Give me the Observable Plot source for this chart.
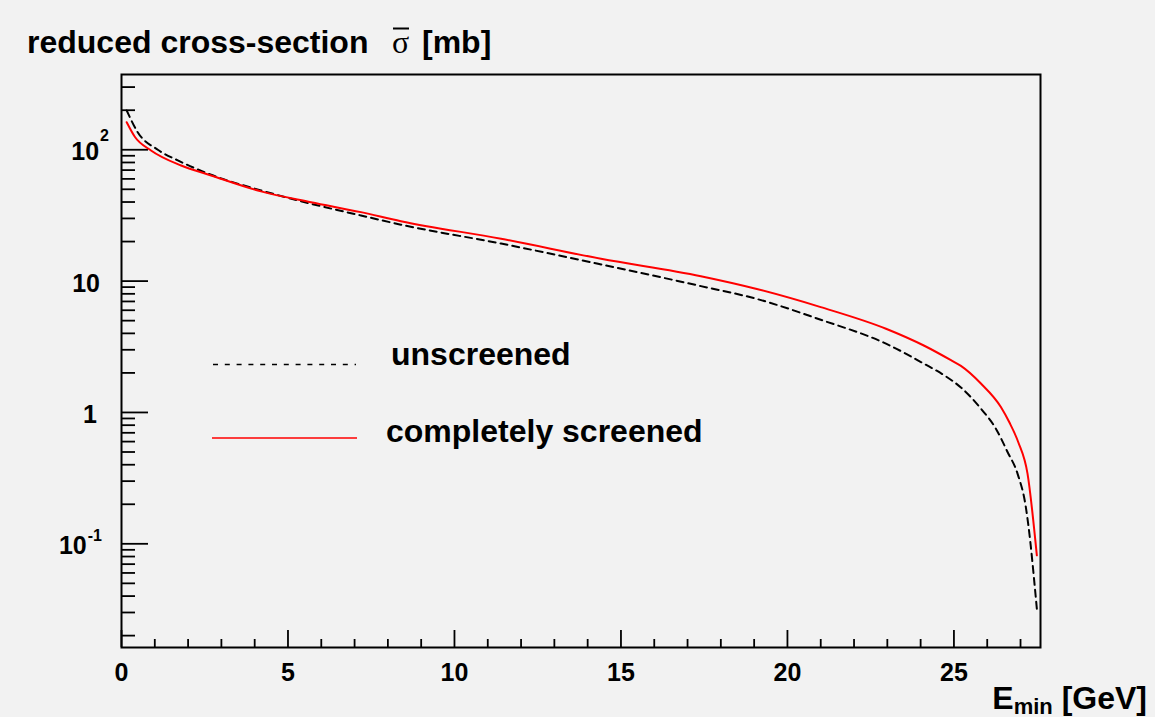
<!DOCTYPE html>
<html>
<head>
<meta charset="utf-8">
<script src="https://cdn.jsdelivr.net/npm/d3@7"></script>
<script src="https://cdn.jsdelivr.net/npm/@observablehq/plot@0.6"></script>
<style>
  html, body { margin: 0; padding: 0; background: #f2f2f2; }
  #chart svg { display: block; }
</style>
</head>
<body>
<div id="chart"></div>
<script>
// ---- data ----
const energyScreened = [0.156, 0.405, 0.886, 1.79, 2.69, 4.19, 5.69, 7.19, 8.39, 11.40, 14.40, 17.40, 19.05, 21.0, 22.96, 24.11, 24.91, 25.21, 25.81, 26.41, 26.66, 26.93, 27.21, 27.49];
const sigmaScreened  = [162, 125, 98.8, 75.9, 63.7, 48.2, 39.9, 33.5, 28.6, 21.0, 14.8, 10.9, 8.75, 6.34, 4.34, 3.22, 2.50, 2.26, 1.66, 1.10, 0.845, 0.596, 0.342, 0.0817];

const energyUnscreened = [0.156, 0.486, 1.09, 1.69, 2.69, 4.19, 5.69, 7.19, 8.39, 11.40, 14.40, 17.40, 19.05, 21.0, 22.96, 24.10, 24.76, 25.21, 25.81, 26.26, 26.61, 26.91, 27.16, 27.29, 27.41, 27.49];
const sigmaUnscreened  = [199, 136, 100, 83, 64.5, 49, 38.8, 31.6, 26.9, 19.3, 13.4, 9.16, 7.35, 5.08, 3.34, 2.35, 1.88, 1.55, 1.07, 0.753, 0.50, 0.342, 0.19, 0.106, 0.0527, 0.0321];

const seriesNames = ["unscreened", "completely screened"];

const xMajorTicks = [0, 5, 10, 15, 20, 25];
const xMinorTicks = [1, 2, 3, 4, 6, 7, 8, 9, 11, 12, 13, 14, 16, 17, 18, 19, 21, 22, 23, 24, 26, 27];
const xTickLabels = ["0", "5", "10", "15", "20", "25"];

const yMajorTicks = [100, 10, 1, 0.1];
const yMinorTicks = [0.02, 0.03, 0.04, 0.05, 0.06, 0.07, 0.08, 0.09,
                     0.2, 0.3, 0.4, 0.5, 0.6, 0.7, 0.8, 0.9,
                     2, 3, 4, 5, 6, 7, 8, 9,
                     20, 30, 40, 50, 60, 70, 80, 90,
                     200, 300];
const yLabelBase = ["10", "10", "1", "10"];
const yLabelExp  = ["2", "", "", "-1"];

const xDomain = [0, 27.6];
const yDomain = [0.01624, 374];

// ---- build rows ----
const screened = energyScreened.map((e, i) => ({e, s: sigmaScreened[i]}));
const unscreened = energyUnscreened.map((e, i) => ({e, s: sigmaUnscreened[i]}));

// ---- layout ----
const W = 1155, H = 717;
const mL = 121, mR = 115, mT = 74, mB = 70;
const plotW = W - mL - mR, plotH = H - mT - mB;
const FONT = "'Liberation Sans', Arial, Helvetica, sans-serif";

const chart = Plot.plot({
  width: W, height: H,
  marginLeft: mL, marginRight: mR, marginTop: mT, marginBottom: mB,
  style: {background: "#f2f2f2", fontFamily: FONT, overflow: "visible"},
  x: {domain: xDomain, axis: null},
  y: {type: "log", domain: yDomain, axis: null},
  marks: [
    Plot.tickX(xMinorTicks, {x: d => d, stroke: "black", strokeWidth: 1.8, insetTop: plotH - 8}),
    Plot.tickX(xMajorTicks, {x: d => d, stroke: "black", strokeWidth: 1.8, insetTop: plotH - 17}),
    Plot.tickY(yMinorTicks, {y: d => d, stroke: "black", strokeWidth: 1.8, insetRight: plotW - 14}),
    Plot.tickY(yMajorTicks, {y: d => d, stroke: "black", strokeWidth: 1.8, insetRight: plotW - 27}),
    Plot.line(unscreened, {x: "e", y: "s", stroke: "black", strokeWidth: 2, strokeDasharray: "7,5", curve: "monotone-x"}),
    Plot.line(screened, {x: "e", y: "s", stroke: "#ff0000", strokeWidth: 2, curve: "monotone-x"}),
    Plot.frame({stroke: "black", strokeWidth: 2}),
    Plot.text(xMajorTicks, {x: d => d, frameAnchor: "bottom", dy: 33, lineAnchor: "bottom",
      text: (d, i) => xTickLabels[i], fontSize: 25, fontWeight: "bold", fill: "black"})
  ]
});

document.getElementById("chart").appendChild(chart);

const svg = d3.select(chart);
const ys = chart.scale("y");

// y tick labels with superscripts
const yLabelRight = [109, 100, 97, 102];
const yExpShift = [-19, 0, 0, -13];
yMajorTicks.forEach((v, i) => {
  const py = ys.apply(v);
  const t = svg.append("text")
    .attr("x", yLabelRight[i]).attr("y", py + 11)
    .attr("text-anchor", "end")
    .attr("font-family", FONT).attr("font-weight", "bold").attr("font-size", 25)
    .attr("fill", "black");
  t.append("tspan").text(yLabelBase[i]);
  if (yLabelExp[i]) {
    t.append("tspan").attr("dx", 1).attr("dy", yExpShift[i]).attr("font-size", 16).text(yLabelExp[i]);
  }
});

// title (y axis label)
const title = svg.append("text")
  .attr("x", 27).attr("y", 53).attr("text-anchor", "start")
  .attr("font-family", FONT).attr("font-weight", "bold").attr("font-size", 32)
  .attr("fill", "black");
title.append("tspan").text("reduced cross-section");
title.append("tspan").attr("x", 392).attr("font-family", "'Liberation Serif', 'DejaVu Serif', serif")
  .attr("font-weight", "normal").attr("font-size", 32).text("σ");
title.append("tspan").attr("x", 422).text("[mb]");
svg.append("line").attr("x1", 393).attr("x2", 409).attr("y1", 28.5).attr("y2", 28.5)
  .attr("stroke", "black").attr("stroke-width", 2);

// x axis title
const xt = svg.append("text")
  .attr("x", 1147).attr("y", 709).attr("text-anchor", "end")
  .attr("font-family", FONT).attr("font-weight", "bold").attr("font-size", 32)
  .attr("fill", "black");
xt.append("tspan").text("E");
xt.append("tspan").attr("dy", 5).attr("font-size", 22).text("min");
xt.append("tspan").attr("dy", -5).text("\u00a0[GeV]");

// legend
const lg = svg.append("g").attr("font-family", FONT).attr("font-weight", "bold").attr("font-size", 32)
  .attr("text-anchor", "start");
lg.append("line").attr("x1", 213).attr("x2", 356).attr("y1", 364.5).attr("y2", 364.5)
  .attr("stroke", "black").attr("stroke-width", 1.3).attr("stroke-dasharray", "5,6.8");
lg.append("text").attr("x", 391).attr("y", 365).attr("text-anchor", "start").attr("fill", "black").text(seriesNames[0]);
lg.append("line").attr("x1", 212).attr("x2", 357).attr("y1", 438).attr("y2", 438)
  .attr("stroke", "#ff0000").attr("stroke-width", 1.6);
lg.append("text").attr("x", 386).attr("y", 442).attr("text-anchor", "start").attr("fill", "black").text(seriesNames[1]);
</script>
</body>
</html>
